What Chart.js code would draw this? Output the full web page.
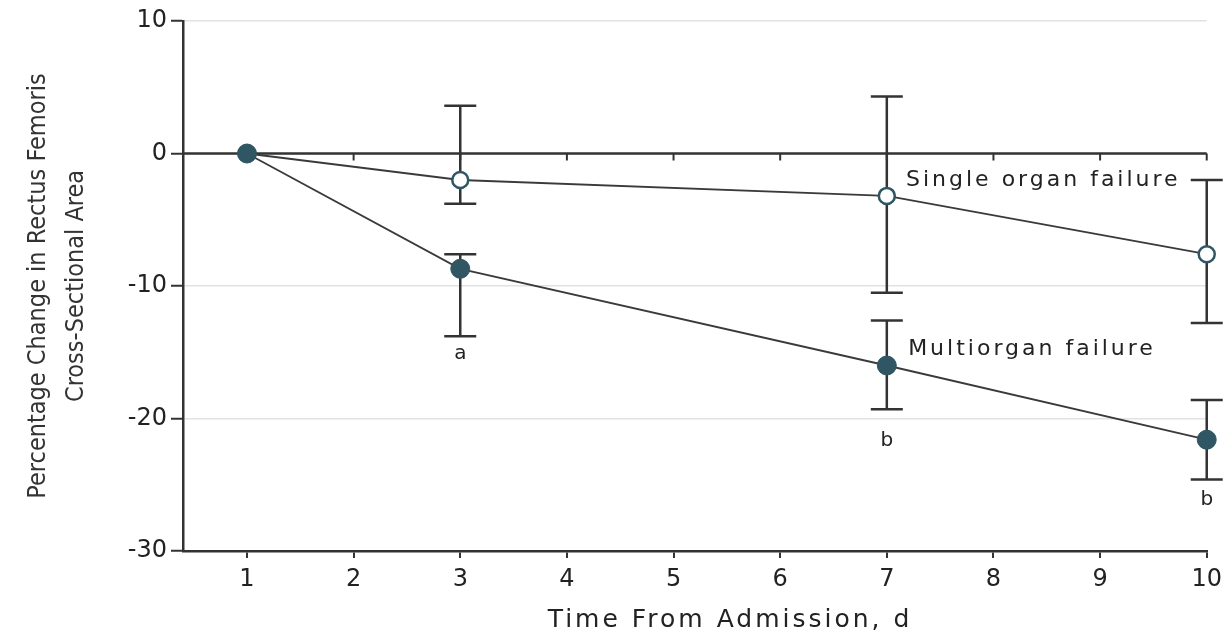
<!DOCTYPE html>
<html>
<head>
<meta charset="utf-8">
<script src="https://cdn.jsdelivr.net/npm/chart.js@4"></script>
<style>
  html, body { margin: 0; padding: 0; background: #fff; }
  #wrap { width: 1229px; height: 635px; }
</style>
</head>
<body>
<div id="wrap"><canvas id="rfChart"></canvas></div>
<script>
// values
const xTicks = [1, 2, 3, 4, 5, 6, 7, 8, 9, 10];
const yTicks = [10, 0, -10, -20, -30];
const days = [1, 3, 7, 10];

const singleMean = [0, -2.0, -3.2, -7.6];
const singleLow = [null, -3.8, -10.5, -12.8];
const singleHigh = [null, 3.6, 4.3, -2.0];

const multiMean = [0, -8.7, -16.0, -21.6];
const multiLow = [null, -13.8, -19.3, -24.6];
const multiHigh = [null, -7.6, -12.6, -18.6];

// significance letters under the bars
const noteX = [3, 7, 10];
const noteY = [-15.1, -21.7, -26.1];
const noteText = ['a', 'b', 'b'];

// series labels placed in the plot
const seriesNames = ['Multiorgan failure', 'Single organ failure'];
const nameX = [7.2, 7.18];
const nameY = [-14.8, -2.0];

const ink = '#333';
const teal = '#2f5662';

const toPoints = (ys) => days.map((d, i) => ({ x: d, y: ys[i] }));

// error bars, zero line and text drawn with the chart's scales
const extras = {
    id: 'extras',
    beforeDatasetsDraw(chart) {
        const ctx = chart.ctx;
        const xs = chart.scales.x, ys = chart.scales.y;
        const area = chart.chartArea;

        // zero reference line with small ticks
        const y0 = ys.getPixelForValue(0);
        ctx.save();
        ctx.strokeStyle = ink;
        ctx.lineWidth = 2.5;
        ctx.beginPath();
        ctx.moveTo(area.left, y0);
        ctx.lineTo(xs.getPixelForValue(10), y0);
        ctx.stroke();
        ctx.lineWidth = 2;
        xTicks.forEach(t => {
            const px = xs.getPixelForValue(t);
            ctx.beginPath();
            ctx.moveTo(px, y0);
            ctx.lineTo(px, y0 + 7);
            ctx.stroke();
        });

        // error bars
        const bars = [[multiLow, multiHigh], [singleLow, singleHigh]];
        ctx.lineWidth = 2.5;
        bars.forEach(([lo, hi]) => {
            days.forEach((d, i) => {
                if (lo[i] === null) return;
                const px = xs.getPixelForValue(d);
                const pl = ys.getPixelForValue(lo[i]);
                const ph = ys.getPixelForValue(hi[i]);
                ctx.beginPath();
                ctx.moveTo(px, pl);
                ctx.lineTo(px, ph);
                ctx.moveTo(px - 16, pl);
                ctx.lineTo(px + 16, pl);
                ctx.moveTo(px - 16, ph);
                ctx.lineTo(px + 16, ph);
                ctx.stroke();
            });
        });
        ctx.restore();
    },
    afterDraw(chart) {
        const ctx = chart.ctx;
        const xs = chart.scales.x, ys = chart.scales.y;
        ctx.save();
        ctx.fillStyle = '#222';
        ctx.textBaseline = 'middle';

        ctx.font = '20px "DejaVu Sans"';
        ctx.textAlign = 'center';
        noteText.forEach((t, i) => {
            ctx.fillText(t, xs.getPixelForValue(noteX[i]), ys.getPixelForValue(noteY[i]));
        });

        ctx.font = '22px "DejaVu Sans"';
        ctx.letterSpacing = '3px';
        ctx.textAlign = 'left';
        seriesNames.forEach((t, i) => {
            ctx.fillText(t, xs.getPixelForValue(nameX[i]), ys.getPixelForValue(nameY[i]));
        });

        // x axis title
        ctx.font = '25px "DejaVu Sans"';
        ctx.letterSpacing = '3px';
        ctx.textAlign = 'center';
        ctx.fillText('Time From Admission, d', 730, 620);
        ctx.restore();
    }
};

const ctx = document.getElementById('rfChart').getContext('2d');
const rfChart = new Chart(ctx, {
    type: 'line',
    data: {
        datasets: [{
            label: seriesNames[0],
            data: toPoints(multiMean),
            borderColor: '#3a3a3a',
            borderWidth: 1.8,
            pointRadius: 9.5,
            pointBackgroundColor: teal,
            pointBorderColor: teal,
            pointBorderWidth: 1,
            clip: false
        }, {
            label: seriesNames[1],
            data: toPoints(singleMean),
            borderColor: '#3a3a3a',
            borderWidth: 1.8,
            pointRadius: 8,
            pointBackgroundColor: '#fff',
            pointBorderColor: teal,
            pointBorderWidth: 2.5,
            clip: false
        }]
    },
    options: {
        responsive: true,
        maintainAspectRatio: false,
        animation: false,
        layout: { padding: { left: 0, right: 22, top: 21, bottom: 0 } },
        plugins: {
            legend: { display: false },
            tooltip: { enabled: false }
        },
        scales: {
            x: {
                type: 'linear',
                min: 0.4,
                max: 10,
                afterBuildTicks: (s) => { s.ticks = xTicks.map(v => ({ value: v })); },
                afterFit: (s) => { s.height = 84; },
                grid: { drawOnChartArea: false, color: ink, lineWidth: 2, tickLength: 7 },
                border: { color: ink, width: 2.5 },
                ticks: { color: '#222', font: { family: 'DejaVu Sans', size: 24 }, padding: 7, maxRotation: 0 }
            },
            y: {
                min: -30,
                max: 10,
                afterBuildTicks: (s) => { s.ticks = yTicks.map(v => ({ value: v })); },
                afterFit: (s) => { s.width = 183; },
                grid: { color: '#e2e2e2', lineWidth: 1.5, tickColor: ink, tickLength: 12, tickWidth: 2 },
                border: { color: ink, width: 2.5 },
                ticks: { color: '#222', font: { family: 'DejaVu Sans', size: 24 }, padding: 4 },
                title: {
                    display: true,
                    text: ['Percentage Change in Rectus Femoris', 'Cross-Sectional Area'],
                    color: '#333',
                    font: { family: 'DejaVu Sans Condensed', size: 25, lineHeight: 1.52 },
                    padding: { top: 19, bottom: 0 }
                }
            }
        }
    },
    plugins: [extras]
});
</script>
</body>
</html>
